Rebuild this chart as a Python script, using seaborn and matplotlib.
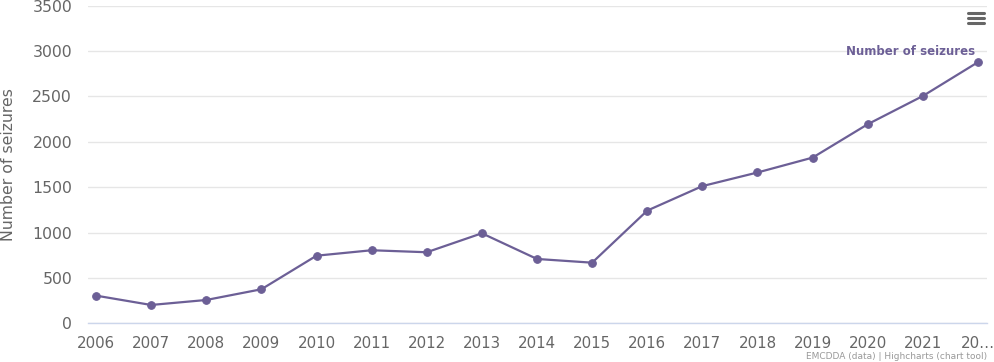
import seaborn as sns
import matplotlib.pyplot as plt
import pandas as pd
from matplotlib.lines import Line2D

years = [2006, 2007, 2008, 2009, 2010, 2011, 2012, 2013, 2014, 2015,
         2016, 2017, 2018, 2019, 2020, 2021, 2022]
seizures = [305, 202, 257, 375, 745, 805, 783, 992, 709, 668,
            1242, 1512, 1662, 1826, 2194, 2505, 2878]
x_labels = [str(y) for y in years[:-1]] + ["20…"]
y_ticks = [0, 500, 1000, 1500, 2000, 2500, 3000, 3500]

LINE = "#6c5f96"
GRID = "#e6e6e6"
AXIS = "#ccd6eb"
TEXT = "#666666"


def main():
    sns.set_theme(style="white")
    plt.rcParams["font.family"] = ["DejaVu Sans"]

    df = pd.DataFrame({"year": years, "seizures": seizures})

    fig = plt.figure(figsize=(9.95, 3.62), dpi=100)
    ax = fig.add_axes([88 / 995, 38.7 / 362, 899 / 995, 317.6 / 362])

    sns.lineplot(data=df, x="year", y="seizures", ax=ax, color=LINE,
                 linewidth=1.6, marker="o", markersize=5.5,
                 markeredgecolor=LINE, markerfacecolor=LINE, zorder=3)

    ax.set_xlim(2006 - 8 / 55.1, 2022 + 9 / 55.1)
    ax.set_ylim(0, 3500)
    ax.set_yticks(y_ticks)
    ax.set_yticklabels([str(t) for t in y_ticks])
    ax.set_xticks(years)
    ax.set_xticklabels(x_labels)

    ax.yaxis.grid(True, color=GRID, linewidth=1)
    ax.xaxis.grid(False)
    for side in ["top", "right", "left"]:
        ax.spines[side].set_visible(False)
    ax.spines["bottom"].set_color(AXIS)
    ax.spines["bottom"].set_linewidth(1)

    ax.tick_params(axis="y", length=0, pad=11.5, labelsize=11.3,
                   labelcolor=TEXT)
    ax.tick_params(axis="x", length=7, width=1, color=AXIS, pad=2,
                   labelsize=10.8, labelcolor=TEXT)

    ax.set_xlabel("")
    ax.set_ylabel("Number of seizures", fontsize=11.3, color=TEXT)
    ax.yaxis.set_label_coords(-72 / 899, 0.5)

    ax.annotate("Number of seizures", xy=(years[-1], seizures[-1]),
                xytext=(-2, 3), textcoords="offset points",
                ha="right", va="bottom", fontsize=8.5, fontweight="bold",
                color=LINE)

    fig.text(987 / 995, 1 / 362, "EMCDDA (data) | Highcharts (chart tool)",
             ha="right", va="bottom", fontsize=6.5, color="#999999")

    # export menu icon
    for yy in [13, 18, 23]:
        fig.add_artist(Line2D([968 / 995, 984 / 995],
                              [1 - yy / 362, 1 - yy / 362],
                              color="#666666", linewidth=2.2,
                              solid_capstyle="round"))

    fig.savefig("out.png", dpi=100, facecolor="white")


if __name__ == "__main__":
    main()
